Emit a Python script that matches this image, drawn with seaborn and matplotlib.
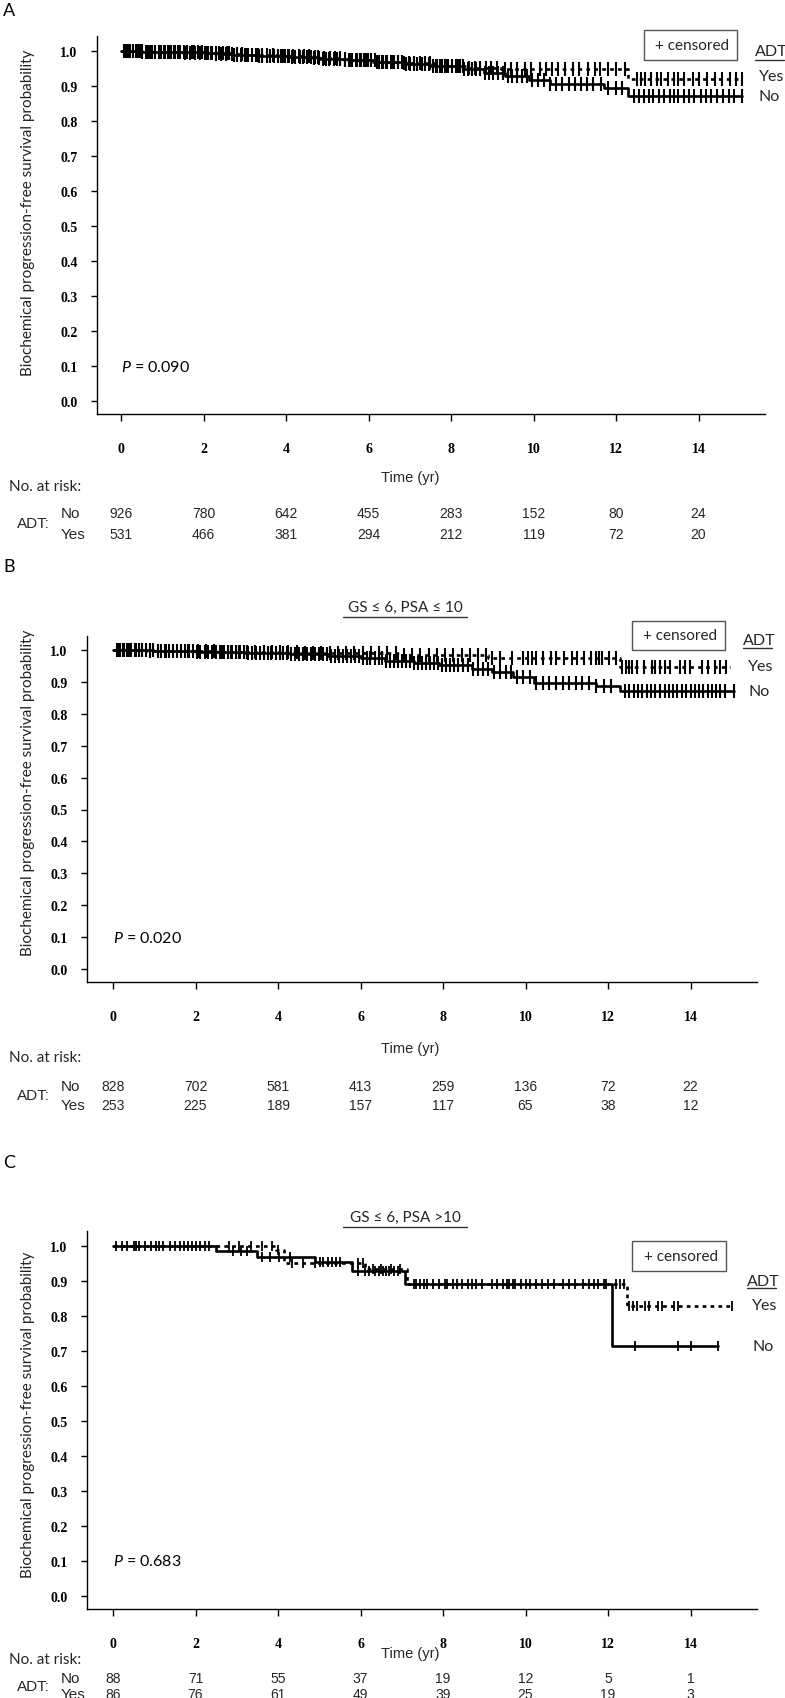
import numpy as np
import pandas as pd
import matplotlib
matplotlib.use("Agg")
import matplotlib.pyplot as plt
import seaborn as sns
from matplotlib.transforms import blended_transform_factory as btf
from matplotlib.patches import Rectangle
from matplotlib.lines import Line2D

# ---------------- data ----------------
years = [0, 2, 4, 6, 8, 10, 12, 14]

# Panel A (all patients)
A_no_t = [0.5, 1.2, 2.0, 2.7, 3.3, 4.1, 4.8, 5.5, 6.2, 6.9, 7.5, 8.3, 8.8, 9.3, 9.9, 10.4, 11.7, 12.3]
A_no_s = [0.998, 0.996, 0.993, 0.990, 0.986, 0.982, 0.978, 0.973, 0.968, 0.962, 0.956, 0.948, 0.936, 0.929, 0.918, 0.905, 0.894, 0.871]
A_no_end = 15.05
A_yes_t = [0.6, 1.5, 2.3, 3.0, 3.8, 4.6, 5.4, 6.1, 6.8, 7.6, 8.4, 9.2, 12.3]
A_yes_s = [0.998, 0.995, 0.992, 0.989, 0.985, 0.980, 0.975, 0.970, 0.965, 0.958, 0.952, 0.949, 0.920]
A_yes_end = 15.05
A_no_cens = [0.08, 0.15, 0.23, 0.3, 0.37, 0.46, 0.52, 0.61, 0.68, 0.75, 0.83, 0.91, 0.97, 1.06, 1.13, 1.21, 1.28, 1.37,
             1.44, 1.53, 1.6, 1.71, 1.78, 1.86, 1.96, 2.04, 2.11, 2.21, 2.3, 2.38, 2.47, 2.56, 2.63, 2.73, 2.82, 2.9,
             3.01, 3.08, 3.17, 3.27, 3.35, 3.43, 3.53, 3.62, 3.7, 3.81, 3.88, 3.97, 4.07, 4.15, 4.23, 4.34, 4.42, 4.5,
             4.61, 4.7, 4.78, 4.89, 4.96, 5.05, 5.16, 5.24, 5.32, 5.43, 5.52, 5.6, 5.71, 5.8, 5.88, 5.99, 6.07, 6.15,
             6.26, 6.35, 6.43, 6.54, 6.62, 6.72, 6.81, 6.9, 7.01, 7.1, 7.18, 7.29, 7.37, 7.46, 7.57, 7.65, 7.74, 7.85,
             7.93, 8.02, 8.13, 8.22, 8.31, 8.41, 8.5, 8.61, 8.7, 8.82, 8.93, 9.02, 9.15, 9.25, 9.37, 9.48, 9.6, 9.73,
             9.85, 9.97, 10.12, 10.25, 10.41, 10.55, 10.7, 10.86, 11.0, 11.16, 11.3, 11.45, 11.63, 11.8, 12.0, 12.15,
             12.44, 12.55, 12.68, 12.8, 12.9, 13.04, 13.16, 13.3, 13.41, 13.5, 13.66, 13.76, 13.9, 14.05, 14.18, 14.3,
             14.46, 14.6, 14.74, 14.86, 15.05]
A_yes_cens = [0.1, 0.2, 0.29, 0.41, 0.5, 0.62, 0.71, 0.82, 0.94, 1.05, 1.17, 1.3, 1.41, 1.55, 1.67, 1.8, 1.91, 2.05,
              2.18, 2.31, 2.42, 2.55, 2.69, 2.8, 2.93, 3.06, 3.18, 3.31, 3.43, 3.55, 3.68, 3.81, 3.93, 4.06, 4.18,
              4.31, 4.43, 4.56, 4.69, 4.8, 4.93, 5.06, 5.19, 5.31, 5.43, 5.56, 5.69, 5.81, 5.93, 6.07, 6.2, 6.33,
              6.46, 6.6, 6.72, 6.86, 6.98, 7.11, 7.24, 7.38, 7.5, 7.63, 7.77, 7.9, 8.03, 8.17, 8.3, 8.44, 8.57, 8.7,
              8.85, 8.98, 9.12, 9.31, 9.45, 9.61, 9.8, 9.95, 10.15, 10.3, 10.46, 10.6, 10.76, 10.95, 11.1, 11.31,
              11.5, 11.62, 11.8, 12.0, 12.21, 12.5, 12.6, 12.71, 12.86, 13.0, 13.1, 13.26, 13.41, 13.5, 13.66, 13.86,
              14.0, 14.21, 14.4, 14.56, 14.76, 14.9, 15.05]
A_risk_no = [926, 780, 642, 455, 283, 152, 80, 24]
A_risk_yes = [531, 466, 381, 294, 212, 119, 72, 20]
A_p = "0.090"

# Panel B (GS <= 6, PSA <= 10)
B_no_t = [1.0, 2.0, 3.2, 4.3, 5.2, 6.0, 6.6, 7.3, 7.9, 8.7, 9.2, 9.7, 10.2, 11.7, 12.3]
B_no_s = [0.998, 0.995, 0.991, 0.987, 0.982, 0.975, 0.967, 0.960, 0.953, 0.940, 0.931, 0.915, 0.897, 0.887, 0.871]
B_no_end = 15.05
B_yes_t = [0.8, 2.5, 4.5, 7.0, 9.1, 12.3]
B_yes_s = [0.998, 0.995, 0.990, 0.984, 0.975, 0.947]
B_yes_end = 14.95
B_no_cens = [0.1, 0.18, 0.27, 0.35, 0.44, 0.53, 0.62, 0.7, 0.8, 0.9, 0.98, 1.08, 1.17, 1.27, 1.36, 1.45, 1.55,
             1.64, 1.74, 1.83, 1.93, 2.03, 2.12, 2.22, 2.31, 2.41, 2.5, 2.6, 2.7, 2.79, 2.89, 2.98, 3.08, 3.17,
             3.27, 3.37, 3.46, 3.56, 3.65, 3.75, 3.84, 3.94, 4.04, 4.13, 4.23, 4.32, 4.42, 4.52, 4.61, 4.71, 4.8,
             4.9, 5.0, 5.09, 5.19, 5.28, 5.38, 5.48, 5.57, 5.67, 5.76, 5.86, 5.96, 6.05, 6.15, 6.24, 6.34, 6.44,
             6.53, 6.63, 6.72, 6.82, 6.92, 7.01, 7.11, 7.2, 7.3, 7.4, 7.49, 7.59, 7.68, 7.78, 7.88, 7.97, 8.07,
             8.16, 8.26, 8.37, 8.48, 8.6, 8.72, 8.85, 8.98, 9.1, 9.24, 9.38, 9.52, 9.66, 9.8, 9.95, 10.1, 10.26,
             10.42, 10.58, 10.74, 10.9, 11.06, 11.22, 11.38, 11.55, 11.72, 11.9, 12.08, 12.42, 12.52, 12.62,
             12.72, 12.83, 12.95, 13.05, 13.15, 13.26, 13.37, 13.47, 13.58, 13.68, 13.8, 13.9, 14.0, 14.1, 14.2,
             14.3, 14.42, 14.52, 14.62, 14.72, 14.83, 15.05]
B_yes_cens = [0.12, 0.25, 0.38, 0.55, 0.7, 0.9, 1.1, 1.28, 1.45, 1.65, 1.85, 2.05, 2.25, 2.45, 2.65, 2.85, 3.05,
              3.25, 3.45, 3.65, 3.85, 4.05, 4.25, 4.45, 4.65, 4.85, 5.05, 5.25, 5.45, 5.65, 5.85, 6.05, 6.25, 6.45,
              6.65, 6.85, 7.05, 7.25, 7.45, 7.65, 7.85, 8.05, 8.25, 8.45, 8.65, 8.85, 9.05, 9.2, 9.38, 9.68, 9.95,
              10.06, 10.16, 10.25, 10.43, 10.63, 10.75, 10.93, 11.13, 11.26, 11.42, 11.58, 11.7, 11.78, 11.86,
              12.02, 12.2, 12.35, 12.43, 12.51, 12.59, 12.71, 12.87, 13.07, 13.15, 13.27, 13.39, 13.51, 13.75,
              13.87, 13.99, 14.27, 14.43, 14.59, 14.71, 14.85]
B_risk_no = [828, 702, 581, 413, 259, 136, 72, 22]
B_risk_yes = [253, 225, 189, 157, 117, 65, 38, 12]
B_p = "0.020"

# Panel C (GS <= 6, PSA > 10)
C_no_t = [2.5, 3.5, 4.9, 5.8, 7.08, 12.1]
C_no_s = [0.985, 0.969, 0.954, 0.929, 0.891, 0.714]
C_no_end = 14.67
C_yes_t = [3.95, 4.15, 6.1, 7.12, 12.45]
C_yes_s = [0.988, 0.951, 0.934, 0.891, 0.829]
C_yes_end = 15.0
C_no_cens = [0.08, 0.22, 0.35, 0.5, 0.55, 0.62, 0.78, 0.92, 1.05, 1.12, 1.2, 1.38, 1.5, 1.62, 1.72, 1.82, 1.92,
             2.02, 2.12, 2.22, 2.32, 2.9, 3.1, 3.25, 3.6, 3.8, 4.02, 4.3, 5.02, 5.1, 5.2, 5.3, 5.4, 5.5, 5.95, 6.1,
             6.2, 6.35, 6.45, 6.55, 6.62, 6.7, 6.8, 6.92, 7.3, 7.45, 7.6, 7.75, 8.1, 8.25, 8.45, 8.6, 8.8, 9.2,
             9.45, 9.6, 9.75, 9.9, 10.1, 10.55, 10.9, 11.2, 11.55, 11.75, 11.95, 12.66, 13.7, 14.02, 14.67]
C_yes_cens = [2.8, 3.05, 3.35, 3.6, 3.85, 4.0, 4.35, 4.6, 4.9, 5.95, 6.05, 6.3, 6.5, 6.75, 6.95, 7.35, 7.55,
              7.9, 8.05, 8.35, 8.7, 8.95, 9.3, 9.55, 9.7, 10.0, 10.25, 10.4, 10.7, 11.05, 11.4, 11.65, 11.9, 12.2,
              12.3, 12.38, 12.5, 12.6, 12.7, 12.9, 13.0, 13.2, 13.3, 13.6, 13.7, 15.0]
C_risk_no = [88, 71, 55, 37, 19, 12, 5, 1]
C_risk_yes = [86, 76, 61, 49, 39, 25, 19, 3]
C_p = "0.683"

panel_titles = ["", "GS \u2264 6, PSA \u2264 10", "GS \u2264 6, PSA >10"]
panel_letters = ["A", "B", "C"]
group_labels = ["Yes", "No"]

# ---------------- style ----------------
sns.set_theme(style="ticks")
plt.rcParams["font.family"] = ["Lato", "DejaVu Sans"]
plt.rcParams["mathtext.fontset"] = "custom"
plt.rcParams["mathtext.it"] = "Lato:italic"
plt.rcParams["mathtext.rm"] = "Lato"

W, H = 785, 1699
fig = plt.figure(figsize=(W / 100, H / 100), dpi=100)
fig.patch.set_facecolor("white")

NARROW = ["Liberation Sans Narrow", "Liberation Sans", "DejaVu Sans"]
SERIF = ["Liberation Serif", "DejaVu Serif"]


def fx(px):
    return px / W


def fy(py):
    return 1 - py / H


def step_at(times, surv, t):
    times = np.asarray(times)
    surv = np.concatenate([[1.0], np.asarray(surv)])
    idx = np.searchsorted(times, np.asarray(t), side="right")
    return surv[idx]


layouts = [
    dict(left=97, right=765, top=37, y1=52, y0=402, bottom=415, x0=121, ylab=376,
         box=(644, 31, 737, 61), adt=(755, 52, 61), yes=(759, 77), no=(759, 97),
         time_y=478, risk_head=487, row_no=514, row_yes=535, letter=(3, 11)),
    dict(left=87, right=757, top=637, y1=651, y0=970, bottom=983, x0=113, ylab=956,
         box=(632, 622, 725, 651), adt=(743, 641, 649), yes=(748, 667), no=(748, 692),
         time_y=1049, risk_head=1058, row_no=1087, row_yes=1106, letter=(3, 567),
         title=(405, 608, 618)),
    dict(left=87, right=757, top=1232, y1=1247, y0=1597, bottom=1610, x0=113, ylab=1578,
         box=(632, 1242, 726, 1272), adt=(747, 1282, 1289), yes=(752, 1306), no=(752, 1347),
         time_y=1654, risk_head=1660, row_no=1679, row_yes=1695, letter=(3, 1163),
         title=(405, 1218, 1228)),
]

curves = [
    (A_no_t, A_no_s, A_no_end, A_no_cens, A_yes_t, A_yes_s, A_yes_end, A_yes_cens, A_risk_no, A_risk_yes, A_p),
    (B_no_t, B_no_s, B_no_end, B_no_cens, B_yes_t, B_yes_s, B_yes_end, B_yes_cens, B_risk_no, B_risk_yes, B_p),
    (C_no_t, C_no_s, C_no_end, C_no_cens, C_yes_t, C_yes_s, C_yes_end, C_yes_cens, C_risk_no, C_risk_yes, C_p),
]

PX_PER_YEAR = 41.25
LW = 1.9

for i, (L, cv) in enumerate(zip(layouts, curves)):
    (no_t, no_s, no_end, no_c, yes_t, yes_s, yes_end, yes_c, r_no, r_yes, pval) = cv
    ax = fig.add_axes([fx(L["left"]), fy(L["bottom"]), fx(L["right"] - L["left"]),
                       (L["bottom"] - L["top"]) / H])
    ppu = L["y0"] - L["y1"]
    ax.set_ylim(-(L["bottom"] - L["y0"]) / ppu, 1 + (L["y1"] - L["top"]) / ppu)
    ax.set_xlim((L["left"] - L["x0"]) / PX_PER_YEAR, (L["right"] - L["x0"]) / PX_PER_YEAR)

    # curves
    msize = 100 if i < 2 else 60
    mlw = 1.5 if i < 2 else 1.3
    for t, s, end, cens, ls in [(no_t, no_s, no_end, no_c, "-"),
                                (yes_t, yes_s, yes_end, yes_c, (0, (1.4, 1.6)))]:
        xs = [0.0] + list(t) + [end]
        ys = [1.0] + list(s) + [s[-1]]
        df = pd.DataFrame({"t": xs, "s": ys})
        sns.lineplot(data=df, x="t", y="s", drawstyle="steps-post", estimator=None, sort=False,
                     color="black", linewidth=LW, linestyle=ls, ax=ax, legend=False)
        cdf = pd.DataFrame({"t": cens, "s": step_at(t, s, cens)})
        sns.scatterplot(data=cdf, x="t", y="s", marker="|", s=msize, color="black", linewidth=mlw,
                        ax=ax, legend=False, zorder=3)

    ax.set_xlabel("")
    ax.set_ylabel("")
    ax.set_xticks(years)
    ax.set_xticklabels([str(y) for y in years])
    yt = np.round(np.arange(0, 1.01, 0.1), 1)
    ax.set_yticks(yt)
    ax.set_yticklabels([f"{v:.1f}" for v in yt])
    ax.tick_params(axis="y", length=4, width=1, pad=10, labelsize=10, colors="black")
    ax.tick_params(axis="x", length=5, width=1, pad=15, labelsize=10, colors="black")
    for lbl in ax.get_xticklabels() + ax.get_yticklabels():
        lbl.set_family(SERIF)
        lbl.set_weight("bold")
    sns.despine(ax=ax)
    for sp in ["left", "bottom"]:
        ax.spines[sp].set_linewidth(1.0)
        ax.spines[sp].set_color("black")

    # P value
    ax.text(0.0, 0.1, r"$P$ = " + pval, fontsize=11.5, ha="left", va="center", color="black")

    # y label
    fig.text(fx(28), fy(L["ylab"]), "Biochemical progression-free survival probability",
             rotation=90, ha="center", va="bottom", fontsize=11, color="#222222")

    # panel letter
    fig.text(fx(L["letter"][0]), fy(L["letter"][1]), panel_letters[i], fontsize=13,
             ha="left", va="center", color="black")

    # title
    if panel_titles[i]:
        tx, ty, uy = L["title"]
        fig.text(fx(tx), fy(ty), panel_titles[i], fontsize=11, ha="center", va="center")
        fig.add_artist(Line2D([fx(tx - 62), fx(tx + 62)], [fy(uy), fy(uy)], color="#333333", lw=1.0))

    # censored box
    bx0, by0, bx1, by1 = L["box"]
    fig.add_artist(Rectangle((fx(bx0), fy(by1)), fx(bx1 - bx0), (by1 - by0) / H,
                             fill=False, edgecolor="#555555", lw=1.0))
    fig.text(fx((bx0 + bx1) / 2 + 2), fy((by0 + by1) / 2), "+ censored", fontsize=11,
             ha="center", va="center")

    # ADT legend
    ax_x, ax_y, ax_u = L["adt"]
    fig.text(fx(ax_x), fy(ax_y), "ADT", fontsize=11.5, ha="left", va="center")
    fig.add_artist(Line2D([fx(ax_x), fx(ax_x + 29)], [fy(ax_u), fy(ax_u)], color="#333333", lw=1.0))
    fig.text(fx(L["yes"][0]), fy(L["yes"][1]), group_labels[0], fontsize=11.5, ha="left", va="center")
    fig.text(fx(L["no"][0]), fy(L["no"][1]), group_labels[1], fontsize=11.5, ha="left", va="center")

    # axis title
    fig.text(fx(410), fy(L["time_y"]), "Time (yr)", fontsize=10.5, ha="center", va="center",
             family=NARROW)

    # risk table
    tr = btf(ax.transData, fig.transFigure)
    fig.text(fx(9), fy(L["risk_head"]), "No. at risk:", fontsize=11, ha="left", va="center")
    fig.text(fx(17), fy((L["row_no"] + L["row_yes"]) / 2), "ADT:", fontsize=11, ha="left",
             va="center", family=NARROW)
    fig.text(fx(61), fy(L["row_no"]), "No", fontsize=11, ha="left", va="center", family=NARROW)
    fig.text(fx(61), fy(L["row_yes"]), "Yes", fontsize=11, ha="left", va="center", family=NARROW)
    for yv, a, b in zip(years, r_no, r_yes):
        ax.text(yv, fy(L["row_no"]), str(a), transform=tr, ha="center", va="center",
                fontsize=10, family=NARROW, stretch="condensed", clip_on=False)
        ax.text(yv, fy(L["row_yes"]), str(b), transform=tr, ha="center", va="center",
                fontsize=10, family=NARROW, stretch="condensed", clip_on=False)

fig.savefig("out.png", dpi=100, facecolor="white")
